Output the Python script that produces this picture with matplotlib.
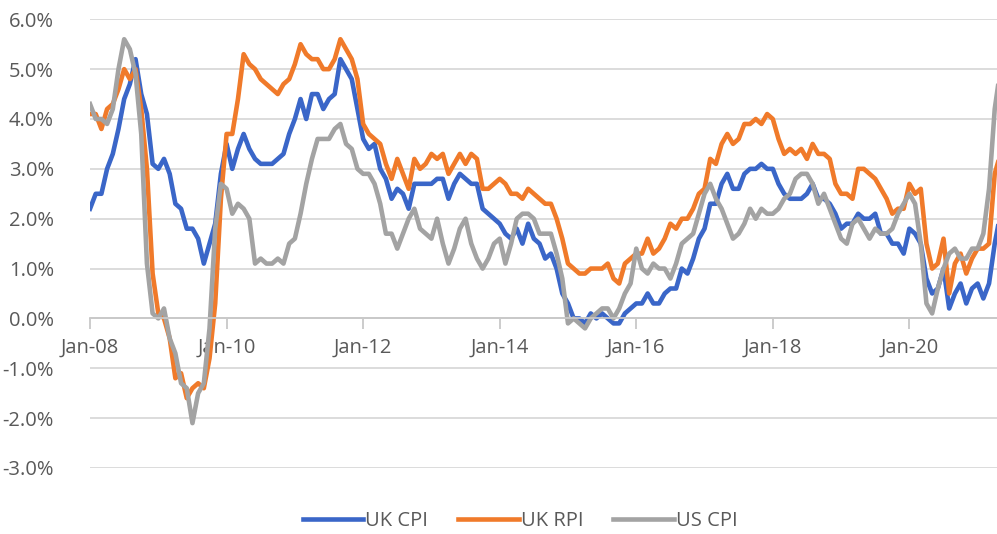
import numpy as np
import matplotlib
matplotlib.use("Agg")
import matplotlib.pyplot as plt
from matplotlib.ticker import FuncFormatter

## monthly annual inflation rates, Jan-2008 .. May-2021 (% values)
uk_cpi = [2.2, 2.5, 2.5, 3.0, 3.3, 3.8, 4.4, 4.7, 5.2, 4.5, 4.1, 3.1,
          3.0, 3.2, 2.9, 2.3, 2.2, 1.8, 1.8, 1.6, 1.1, 1.5, 1.9, 2.9,
          3.5, 3.0, 3.4, 3.7, 3.4, 3.2, 3.1, 3.1, 3.1, 3.2, 3.3, 3.7,
          4.0, 4.4, 4.0, 4.5, 4.5, 4.2, 4.4, 4.5, 5.2, 5.0, 4.8, 4.2,
          3.6, 3.4, 3.5, 3.0, 2.8, 2.4, 2.6, 2.5, 2.2, 2.7, 2.7, 2.7,
          2.7, 2.8, 2.8, 2.4, 2.7, 2.9, 2.8, 2.7, 2.7, 2.2, 2.1, 2.0,
          1.9, 1.7, 1.6, 1.8, 1.5, 1.9, 1.6, 1.5, 1.2, 1.3, 1.0, 0.5,
          0.3, 0.0, 0.0, -0.1, 0.1, 0.0, 0.1, 0.0, -0.1, -0.1, 0.1, 0.2,
          0.3, 0.3, 0.5, 0.3, 0.3, 0.5, 0.6, 0.6, 1.0, 0.9, 1.2, 1.6,
          1.8, 2.3, 2.3, 2.7, 2.9, 2.6, 2.6, 2.9, 3.0, 3.0, 3.1, 3.0,
          3.0, 2.7, 2.5, 2.4, 2.4, 2.4, 2.5, 2.7, 2.4, 2.4, 2.3, 2.1,
          1.8, 1.9, 1.9, 2.1, 2.0, 2.0, 2.1, 1.7, 1.7, 1.5, 1.5, 1.3,
          1.8, 1.7, 1.5, 0.8, 0.5, 0.6, 1.0, 0.2, 0.5, 0.7, 0.3, 0.6,
          0.7, 0.4, 0.7, 1.5, 2.1]

uk_rpi = [4.1, 4.1, 3.8, 4.2, 4.3, 4.6, 5.0, 4.8, 5.0, 4.2, 3.0, 0.9,
          0.1, 0.0, -0.4, -1.2, -1.1, -1.6, -1.4, -1.3, -1.4, -0.8, 0.3, 2.4,
          3.7, 3.7, 4.4, 5.3, 5.1, 5.0, 4.8, 4.7, 4.6, 4.5, 4.7, 4.8,
          5.1, 5.5, 5.3, 5.2, 5.2, 5.0, 5.0, 5.2, 5.6, 5.4, 5.2, 4.8,
          3.9, 3.7, 3.6, 3.5, 3.1, 2.8, 3.2, 2.9, 2.6, 3.2, 3.0, 3.1,
          3.3, 3.2, 3.3, 2.9, 3.1, 3.3, 3.1, 3.3, 3.2, 2.6, 2.6, 2.7,
          2.8, 2.7, 2.5, 2.5, 2.4, 2.6, 2.5, 2.4, 2.3, 2.3, 2.0, 1.6,
          1.1, 1.0, 0.9, 0.9, 1.0, 1.0, 1.0, 1.1, 0.8, 0.7, 1.1, 1.2,
          1.3, 1.3, 1.6, 1.3, 1.4, 1.6, 1.9, 1.8, 2.0, 2.0, 2.2, 2.5,
          2.6, 3.2, 3.1, 3.5, 3.7, 3.5, 3.6, 3.9, 3.9, 4.0, 3.9, 4.1,
          4.0, 3.6, 3.3, 3.4, 3.3, 3.4, 3.2, 3.5, 3.3, 3.3, 3.2, 2.7,
          2.5, 2.5, 2.4, 3.0, 3.0, 2.9, 2.8, 2.6, 2.4, 2.1, 2.2, 2.2,
          2.7, 2.5, 2.6, 1.5, 1.0, 1.1, 1.6, 0.5, 1.1, 1.3, 0.9, 1.2,
          1.4, 1.4, 1.5, 2.9, 3.3]

us_cpi = [4.3, 4.0, 4.0, 3.9, 4.2, 5.0, 5.6, 5.4, 4.9, 3.7, 1.1, 0.1,
          0.0, 0.2, -0.4, -0.7, -1.3, -1.4, -2.1, -1.5, -1.3, -0.2, 1.8, 2.7,
          2.6, 2.1, 2.3, 2.2, 2.0, 1.1, 1.2, 1.1, 1.1, 1.2, 1.1, 1.5,
          1.6, 2.1, 2.7, 3.2, 3.6, 3.6, 3.6, 3.8, 3.9, 3.5, 3.4, 3.0,
          2.9, 2.9, 2.7, 2.3, 1.7, 1.7, 1.4, 1.7, 2.0, 2.2, 1.8, 1.7,
          1.6, 2.0, 1.5, 1.1, 1.4, 1.8, 2.0, 1.5, 1.2, 1.0, 1.2, 1.5,
          1.6, 1.1, 1.5, 2.0, 2.1, 2.1, 2.0, 1.7, 1.7, 1.7, 1.3, 0.8,
          -0.1, 0.0, -0.1, -0.2, 0.0, 0.1, 0.2, 0.2, 0.0, 0.2, 0.5, 0.7,
          1.4, 1.0, 0.9, 1.1, 1.0, 1.0, 0.8, 1.1, 1.5, 1.6, 1.7, 2.1,
          2.5, 2.7, 2.4, 2.2, 1.9, 1.6, 1.7, 1.9, 2.2, 2.0, 2.2, 2.1,
          2.1, 2.2, 2.4, 2.5, 2.8, 2.9, 2.9, 2.7, 2.3, 2.5, 2.2, 1.9,
          1.6, 1.5, 1.9, 2.0, 1.8, 1.6, 1.8, 1.7, 1.7, 1.8, 2.1, 2.3,
          2.5, 2.3, 1.5, 0.3, 0.1, 0.6, 1.0, 1.3, 1.4, 1.2, 1.2, 1.4,
          1.4, 1.7, 2.6, 4.2, 5.0]

tick_labels = ['Jan-08', 'Jan-10', 'Jan-12', 'Jan-14', 'Jan-16', 'Jan-18', 'Jan-20']

months = np.arange(len(uk_cpi))
grey_txt = '#595959'

plt.rcParams['font.family'] = ['Open Sans', 'DejaVu Sans']

fig = plt.figure(figsize=(9.97, 5.34), dpi=100)
ax = fig.add_axes([0.0903, 0.1236, 0.9097, 0.8403])

ax.plot(months, uk_cpi, color='#3a66c8', lw=3.3, label='UK CPI', solid_joinstyle='round')
ax.plot(months, uk_rpi, color='#f07a2a', lw=3.3, label='UK RPI', solid_joinstyle='round')
ax.plot(months, us_cpi, color='#a3a3a3', lw=3.3, label='US CPI', solid_joinstyle='round')

ax.set_xlim(0, 159.4)
ax.set_ylim(-3, 6)
ax.set_yticks(np.arange(-3, 7, 1))
ax.yaxis.set_major_formatter(FuncFormatter(lambda v, p: '%.1f%%' % v))
ax.grid(axis='y', color='#d9d9d9', lw=1.3)
ax.set_axisbelow(True)

ax.set_xticks(np.arange(0, 24 * len(tick_labels), 24))
ax.set_xticklabels(tick_labels)

for s in ['top', 'right', 'left']:
    ax.spines[s].set_visible(False)
ax.spines['bottom'].set_position(('data', 0))
ax.spines['bottom'].set_color('#c8c8c8')
ax.spines['bottom'].set_linewidth(1.3)

ax.tick_params(axis='x', colors='#c8c8c8', labelcolor=grey_txt, labelsize=14.5,
               length=8, width=1.3, direction='out', pad=6)
ax.tick_params(axis='y', length=0, labelcolor=grey_txt, labelsize=14.5, pad=26)

fig.legend(loc='center', bbox_to_anchor=(520 / 997, 1 - 521 / 534), ncol=3,
           frameon=False, fontsize=14.5, labelcolor=grey_txt, handlelength=3.0,
           handletextpad=0.1, columnspacing=1.5)

fig.savefig('out.png', dpi=100)
